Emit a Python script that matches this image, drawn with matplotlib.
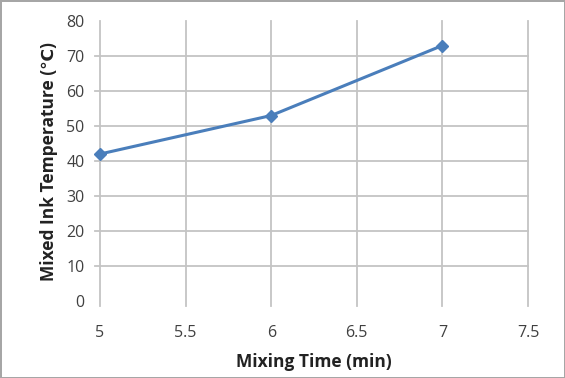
import numpy as np
import matplotlib.pyplot as plt

# Mixing time vs. mixed ink temperature
mixing_time = [5, 6, 7]
temperature = [42, 53, 73]
x_ticks = [5, 5.5, 6, 6.5, 7, 7.5]
y_ticks = [0, 10, 20, 30, 40, 50, 60, 70, 80]

plt.rcParams['font.family'] = ['Open Sans', 'DejaVu Sans']

fig = plt.figure(figsize=(5.65, 3.78), dpi=100)
fig.patch.set_edgecolor("#a6a6a6")
fig.patch.set_linewidth(2)
ax = fig.add_axes([0.177, 0.2037, 0.7575, 0.7407])

grid_col = "#c4c4c4"
# horizontal gridlines (none at 0 or 80)
for v in y_ticks[1:-1]:
    ax.axhline(v, color=grid_col, lw=1.3, zorder=1, xmin=-0.012, clip_on=False)
for v in x_ticks:
    ax.axvline(v, color=grid_col, lw=1.3, zorder=1, ymin=-0.018, clip_on=False)

ax.plot(mixing_time, temperature, color="#4a7ebb", lw=2.2, marker="D",
        markersize=6, zorder=3, clip_on=False)

ax.set_xlim(5, 7.5)
ax.set_ylim(0, 80)
ax.set_xticks(x_ticks)
ax.set_xticklabels([str(t) for t in x_ticks])
ax.set_yticks(y_ticks)
for s in ax.spines.values():
    s.set_visible(False)
ax.tick_params(length=0, labelsize=11.5, labelcolor="#404040")
ax.tick_params(axis="x", pad=17)
ax.tick_params(axis="y", pad=11)

ax.set_xlabel("Mixing Time (min)", fontsize=12.5, fontweight="bold", color="#222222", labelpad=9)
ax.set_ylabel("Mixed Ink Temperature (℃)", fontsize=12.5, fontweight="bold", color="#222222", labelpad=6)

fig.savefig("out.png", dpi=100, edgecolor=fig.get_edgecolor())
